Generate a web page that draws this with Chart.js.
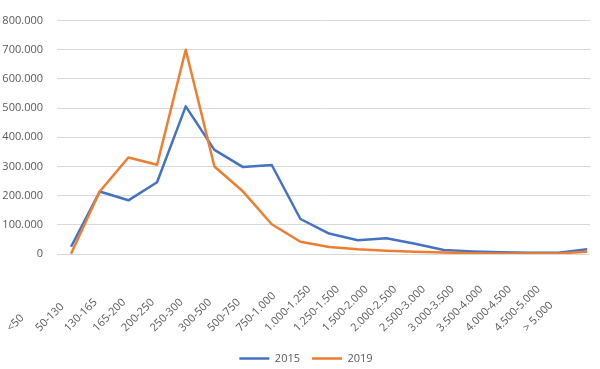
<!DOCTYPE html>
<html>
<head>
<meta charset="utf-8">
<script src="https://cdn.jsdelivr.net/npm/chart.js@4"></script>
<style>
  html, body { margin:0; padding:0; background:#fff; }
  #wrap { width:600px; height:369px; }
</style>
</head>
<body>
<div id="wrap"><canvas id="chart" width="600" height="369"></canvas></div>
<script>
// ===== data =====
const categories = ['<50','50-130','130-165','165-200','200-250','250-300','300-500','500-750','750-1.000',
  '1.000-1.250','1.250-1.500','1.500-2.000','2.000-2.500','2.500-3.000','3.000-3.500','3.500-4.000',
  '4.000-4.500','4.500-5.000','> 5.000'];
const series2015 = [25000,214000,184000,246000,506000,357000,298000,305000,120000,70000,47000,54000,35000,14000,9000,6000,4000,4000,16000];
const series2019 = [1000,214000,331000,306000,700000,300000,214000,102000,42000,24000,16000,11000,8000,5000,3000,2000,2000,2000,8000];
const yTicks = [0,100000,200000,300000,400000,500000,600000,700000,800000];

const colors = { blue:'#4472C4', orange:'#ED7D31', grid:'#d9d9d9', text:'#595959' };
const FONT = "'Open Sans', 'DejaVu Sans', sans-serif";

const toPts = arr => arr.map((v,i) => ({x:i, y:v}));
const fmt = v => v.toLocaleString('de-DE');

// category labels, rotated like the Excel axis (text starts low-left, runs up-right)
const catLabels = {
  id:'catLabels',
  afterLayout(chart) {
    // legend sits a bit right of centre in the original
    chart.legend.left += 11; chart.legend.right += 11;
  },
  afterDraw(chart) {
    const xs = chart.scales.x, ctx = chart.ctx;
    ctx.save();
    ctx.font = '11px ' + FONT;
    ctx.fillStyle = colors.text;
    ctx.textAlign = 'left';
    ctx.textBaseline = 'alphabetic';
    categories.forEach((c,i) => {
      const px = xs.getPixelForValue(i);
      ctx.save();
      ctx.translate(px - 60, 332);
      ctx.rotate(-Math.PI/4);
      ctx.fillText(c, 0, 0);
      ctx.restore();
    });
    ctx.restore();
  }
};

new Chart(document.getElementById('chart').getContext('2d'), {
  type:'line',
  data:{ datasets:[
    { label:'2015', data:toPts(series2015), borderColor:colors.blue, backgroundColor:colors.blue,
      borderWidth:2.5, pointRadius:0, tension:0, borderJoinStyle:'round', order:2 },
    { label:'2019', data:toPts(series2019), borderColor:colors.orange, backgroundColor:colors.orange,
      borderWidth:2.5, pointRadius:0, tension:0, borderJoinStyle:'round', order:1 }
  ]},
  options:{
    responsive:false, animation:false, devicePixelRatio:1,
    layout:{ padding:{ top:9, right:10, left:0, bottom:-5 } },
    plugins:{
      tooltip:{ enabled:false },
      legend:{ position:'bottom',
        labels:{ usePointStyle:true, pointStyle:'line', pointStyleWidth:30, boxHeight:11,
          color:colors.text, font:{ family:FONT, size:11 }, padding:12,
          sort:(a,b) => a.datasetIndex - b.datasetIndex } }
    },
    scales:{
      x:{ type:'linear', min:-0.49, max:18.1,
        grid:{ display:false }, border:{ display:false }, ticks:{ display:false },
        afterFit(s){ s.height = 87; } },
      y:{ min:0, max:800000,
        afterBuildTicks(s){ s.ticks = yTicks.map(v => ({value:v})); },
        afterFit(s){ s.width = 57; },
        grid:{ color:colors.grid, lineWidth:1, drawTicks:false },
        border:{ display:false },
        ticks:{ color:colors.text, font:{ family:FONT, size:11 }, padding:14, callback:v => fmt(v) } }
    }
  },
  plugins:[catLabels]
});
</script>
</body>
</html>
